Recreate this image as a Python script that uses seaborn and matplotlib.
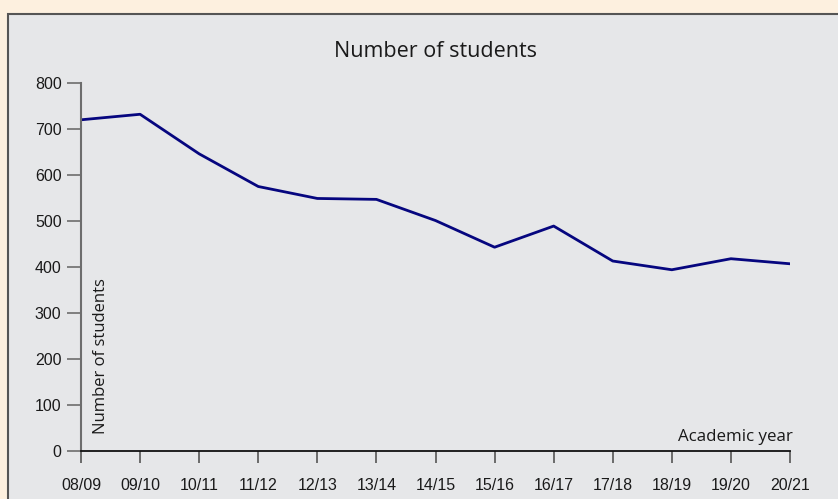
import matplotlib
matplotlib.use("Agg")
import matplotlib.pyplot as plt
from matplotlib.patches import Rectangle
import seaborn as sns
import pandas as pd

# Student numbers per academic year
years = ["08/09", "09/10", "10/11", "11/12", "12/13", "13/14", "14/15",
         "15/16", "16/17", "17/18", "18/19", "19/20", "20/21"]
students = [720, 732, 646, 575, 549, 547, 501, 443, 489, 413, 394, 418, 407]
y_ticks = [0, 100, 200, 300, 400, 500, 600, 700, 800]

df = pd.DataFrame({"year": years, "students": students})

sns.set_style("white")
plt.rcParams["font.family"] = ["Liberation Sans", "DejaVu Sans"]

W, H = 838, 499
fig = plt.figure(figsize=(W / 100, H / 100), dpi=100)
fig.patch.set_facecolor("#fdf0df")

# grey panel framing the chart
panel = Rectangle((8 / W, -0.05), 1.2, 1 - 14 / H + 0.05, transform=fig.transFigure,
                  facecolor="#e6e7e9", edgecolor="#555555", linewidth=1.5, zorder=-10)
fig.patches.append(panel)

ax = fig.add_axes([81 / W, 1 - 451 / H, (790 - 81) / W, (451 - 83) / H])
ax.set_facecolor("none")
ax.patch.set_visible(False)

sns.lineplot(data=df, x="year", y="students", ax=ax, color="#06067f",
             linewidth=2.0, sort=False)

ax.set_xlim(0, len(years) - 1)
ax.set_ylim(0, 800)
ax.set_yticks(y_ticks)
ax.set_xticks(range(len(years)))
ax.set_xticklabels(years)

for s in ["top", "right"]:
    ax.spines[s].set_visible(False)
ax.spines["left"].set_color("#6d6d6d")
ax.spines["left"].set_linewidth(1.5)
ax.spines["left"].set_bounds(0, 800)
ax.spines["bottom"].set_color("#111111")
ax.spines["bottom"].set_linewidth(1.3)

ax.tick_params(axis="y", direction="out", length=10, width=1.2, color="#6d6d6d",
               pad=4, labelsize=11.5, labelcolor="#1a1a1a", left=True)
ax.tick_params(axis="x", direction="out", length=8.5, width=1.2, color="#555555",
               pad=11, labelsize=11.5, labelcolor="#1a1a1a", bottom=True)

ax.set_xlabel("")
ax.set_ylabel("")

ax.set_title("Number of students", fontsize=15.5, family=["Open Sans", "DejaVu Sans"],
             color="#1a1a1a", pad=19)

ax.text(0.017, 0.047, "Number of students", transform=ax.transAxes, rotation=90,
        ha="left", va="bottom", fontsize=12, family=["Open Sans", "DejaVu Sans"],
        color="#1a1a1a")
ax.text(1.004, 0.016, "Academic year", transform=ax.transAxes, ha="right",
        va="bottom", fontsize=12.2, family=["Open Sans", "DejaVu Sans"],
        color="#1a1a1a")

fig.savefig("out.png", dpi=100, facecolor=fig.get_facecolor())
